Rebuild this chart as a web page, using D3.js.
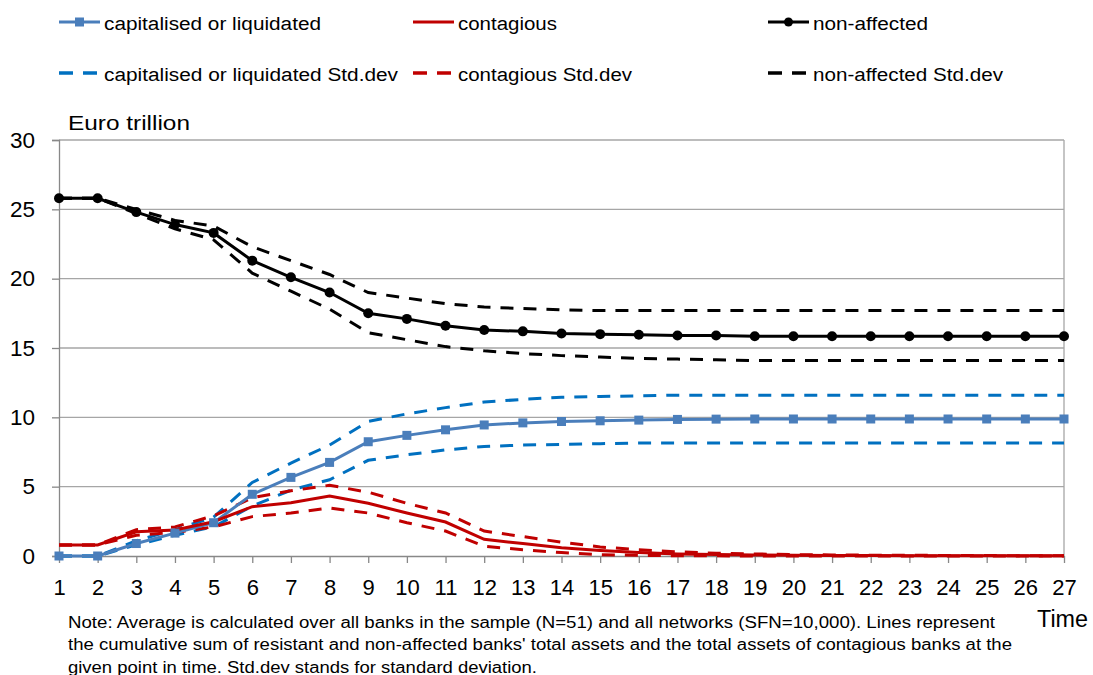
<!doctype html>
<html>
<head>
<meta charset="utf-8">
<script src="https://d3js.org/d3.v7.min.js"></script>
<style>
  body { margin:0; background:#fff; }
  text { font-family: "Liberation Sans", Arial, sans-serif; }
</style>
</head>
<body>
<svg id="chart" width="1093" height="675"></svg>
<script>
// time steps
const times = d3.range(1, 28);

// Euro trillion
const capitalised    = [0, 0, 0.9, 1.65, 2.4, 4.45, 5.67, 6.75, 8.24, 8.7, 9.1, 9.45, 9.6, 9.7, 9.75, 9.8, 9.85, 9.87, 9.88, 9.88, 9.88, 9.88, 9.88, 9.88, 9.88, 9.88, 9.88];
const capitalisedUp  = [0, 0, 1.1, 1.9, 2.8, 5.3, 6.7, 8.0, 9.7, 10.25, 10.7, 11.1, 11.3, 11.45, 11.5, 11.55, 11.6, 11.6, 11.6, 11.6, 11.6, 11.6, 11.6, 11.6, 11.6, 11.6, 11.6];
const capitalisedLo  = [0, 0, 0.8, 1.5, 2.1, 3.6, 4.75, 5.5, 6.9, 7.3, 7.65, 7.9, 8.0, 8.05, 8.1, 8.15, 8.15, 8.15, 8.15, 8.15, 8.15, 8.15, 8.15, 8.15, 8.15, 8.15, 8.15];
const contagious     = [0.8, 0.8, 1.75, 1.87, 2.47, 3.56, 3.84, 4.33, 3.8, 3.1, 2.45, 1.2, 0.9, 0.6, 0.4, 0.25, 0.15, 0.1, 0.07, 0.05, 0.04, 0.03, 0.02, 0.02, 0.01, 0.01, 0.01];
const contagiousUp   = [0.8, 0.8, 1.9, 2.1, 2.9, 4.2, 4.7, 5.1, 4.6, 3.8, 3.1, 1.8, 1.4, 1.0, 0.65, 0.45, 0.3, 0.2, 0.15, 0.1, 0.08, 0.06, 0.05, 0.04, 0.03, 0.02, 0.02];
const contagiousLo   = [0.8, 0.8, 1.5, 1.7, 2.1, 2.84, 3.1, 3.46, 3.1, 2.4, 1.8, 0.7, 0.45, 0.25, 0.1, 0.05, 0.02, 0.01, 0, 0, 0, 0, 0, 0, 0, 0, 0];
const nonAffected    = [25.8, 25.8, 24.8, 23.9, 23.3, 21.3, 20.1, 19.0, 17.5, 17.1, 16.6, 16.3, 16.2, 16.05, 16.0, 15.95, 15.9, 15.9, 15.85, 15.85, 15.85, 15.85, 15.85, 15.85, 15.85, 15.85, 15.85];
const nonAffectedUp  = [25.8, 25.8, 25.0, 24.2, 23.8, 22.3, 21.3, 20.3, 19.0, 18.6, 18.2, 17.95, 17.85, 17.75, 17.7, 17.7, 17.7, 17.7, 17.7, 17.7, 17.7, 17.7, 17.7, 17.7, 17.7, 17.7, 17.7];
const nonAffectedLo  = [25.8, 25.8, 24.7, 23.6, 22.8, 20.4, 19.1, 17.8, 16.1, 15.6, 15.1, 14.8, 14.6, 14.45, 14.35, 14.25, 14.2, 14.15, 14.1, 14.1, 14.1, 14.1, 14.1, 14.1, 14.1, 14.1, 14.1];

const yTicks = [0, 5, 10, 15, 20, 25, 30];

const noteLines = [
  "Note: Average is calculated over all banks in the sample (N=51) and all networks (SFN=10,000).  Lines represent",
  "the cumulative sum of resistant and non-affected banks' total assets and the total assets of contagious banks at the",
  "given point in time. Std.dev stands for standard deviation."
];

const series = [
  {name: "capitalised or liquidated Std.dev", values: capitalisedUp, color: "#0070c0", dash: true},
  {name: null, values: capitalisedLo, color: "#0070c0", dash: true},
  {name: "contagious Std.dev", values: contagiousUp, color: "#c00000", dash: true},
  {name: null, values: contagiousLo, color: "#c00000", dash: true},
  {name: "non-affected Std.dev", values: nonAffectedUp, color: "#000", dash: true},
  {name: null, values: nonAffectedLo, color: "#000", dash: true},
  {name: "capitalised or liquidated", values: capitalised, color: "#4a7ebb", marker: "square"},
  {name: "contagious", values: contagious, color: "#c00000"},
  {name: "non-affected", values: nonAffected, color: "#000", marker: "circle"}
];

// text widths as rendered in the original (its font runs wide)
const legendWidths = [217, 99, 115, 294, 174, 190];
const noteWidths = [927, 944, 469];

const svg = d3.select("#chart");
const plotL = 59, plotR = 1064, plotT = 140, plotB = 556;

const x = d3.scaleLinear().domain([1, 27]).range([plotL, plotR]);
const y = d3.scaleLinear().domain([0, 30]).range([plotB, plotT]);

// gridlines
svg.append("g").selectAll("line").data(yTicks.filter(d => d > 0)).join("line")
  .attr("x1", plotL).attr("x2", plotR)
  .attr("y1", d => y(d)).attr("y2", d => y(d))
  .attr("stroke", "#a6a6a6").attr("stroke-width", 1.3);
svg.append("line").attr("x1", plotR).attr("x2", plotR).attr("y1", plotT).attr("y2", plotB)
  .attr("stroke", "#a6a6a6").attr("stroke-width", 1.3);

// y axis
const yAxis = svg.append("g").attr("transform", `translate(${plotL},0)`)
  .call(d3.axisLeft(y).tickValues(yTicks).tickSize(7).tickPadding(17));
yAxis.select(".domain").attr("stroke", "#888").attr("stroke-width", 1.3);
yAxis.selectAll(".tick line").attr("stroke", "#888").attr("stroke-width", 1.3);
yAxis.selectAll("text").attr("font-size", 22.5).attr("fill", "#000")
  .style("font-family", "'Liberation Sans', Arial, sans-serif");

// x axis
const xAxis = svg.append("g").attr("transform", `translate(0,${plotB})`)
  .call(d3.axisBottom(x).tickValues(times).tickFormat(d3.format("d")).tickSize(7).tickPadding(16).tickSizeOuter(0));
xAxis.select(".domain").attr("stroke", "#888").attr("stroke-width", 1.3);
xAxis.selectAll(".tick line").attr("stroke", "#888").attr("stroke-width", 1.3);
xAxis.selectAll("text").attr("font-size", 22).attr("fill", "#000")
  .style("font-family", "'Liberation Sans', Arial, sans-serif");

// lines
const line = d3.line().x((d, i) => x(times[i])).y(d => y(d));
svg.append("g").selectAll("path").data(series).join("path")
  .attr("d", d => line(d.values))
  .attr("fill", "none")
  .attr("stroke", d => d.color)
  .attr("stroke-width", 3)
  .attr("stroke-dasharray", d => d.dash ? "13,10" : null);

// markers
series.filter(s => s.marker).forEach(s => {
  const g = svg.append("g");
  if (s.marker === "square") {
    g.selectAll("rect").data(s.values).join("rect")
      .attr("x", (d, i) => x(times[i]) - 4.5).attr("y", d => y(d) - 4.5)
      .attr("width", 9).attr("height", 9).attr("fill", s.color);
  } else {
    g.selectAll("circle").data(s.values).join("circle")
      .attr("cx", (d, i) => x(times[i])).attr("cy", d => y(d)).attr("r", 5)
      .attr("fill", s.color);
  }
});

// legend
const legendItems = [
  {s: series[6], col: 0, row: 0}, {s: series[7], col: 1, row: 0}, {s: series[8], col: 2, row: 0},
  {s: series[0], col: 0, row: 1}, {s: series[2], col: 1, row: 1}, {s: series[4], col: 2, row: 1}
];
const colX = [59, 413, 768], rowY = [22, 73];
legendItems.forEach((it, k) => {
  const g = svg.append("g").attr("transform", `translate(${colX[it.col]},${rowY[it.row]})`);
  if (it.s.dash) {
    g.append("line").attr("x1", 0).attr("x2", 38).attr("y1", 0).attr("y2", 0)
      .attr("stroke", it.s.color).attr("stroke-width", 3.5).attr("stroke-dasharray", "14,10");
  } else {
    g.append("line").attr("x1", 0).attr("x2", 41).attr("y1", 0).attr("y2", 0)
      .attr("stroke", it.s.color).attr("stroke-width", 3);
    if (it.s.marker === "square") g.append("rect").attr("x", 16).attr("y", -4.5).attr("width", 9).attr("height", 9).attr("fill", it.s.color);
    if (it.s.marker === "circle") g.append("circle").attr("cx", 20.5).attr("cy", 0).attr("r", 4.5).attr("fill", it.s.color);
  }
  g.append("text").attr("x", 45).attr("y", 7.5).attr("font-size", 18)
    .attr("textLength", legendWidths[k]).attr("lengthAdjust", "spacingAndGlyphs")
    .text(it.s.name);
});

// titles
svg.append("text").attr("x", 68).attr("y", 130).attr("font-size", 21)
  .attr("textLength", 122).attr("lengthAdjust", "spacingAndGlyphs").text("Euro trillion");
svg.append("text").attr("x", 1037).attr("y", 627).attr("font-size", 23)
  .attr("textLength", 51).attr("lengthAdjust", "spacingAndGlyphs").text("Time");

svg.append("g").selectAll("text").data(noteLines).join("text")
  .attr("x", 68).attr("y", (d, i) => 628 + i * 22.3)
  .attr("font-size", 16)
  .attr("textLength", (d, i) => noteWidths[i]).attr("lengthAdjust", "spacingAndGlyphs")
  .text(d => d);
</script>
</body>
</html>
